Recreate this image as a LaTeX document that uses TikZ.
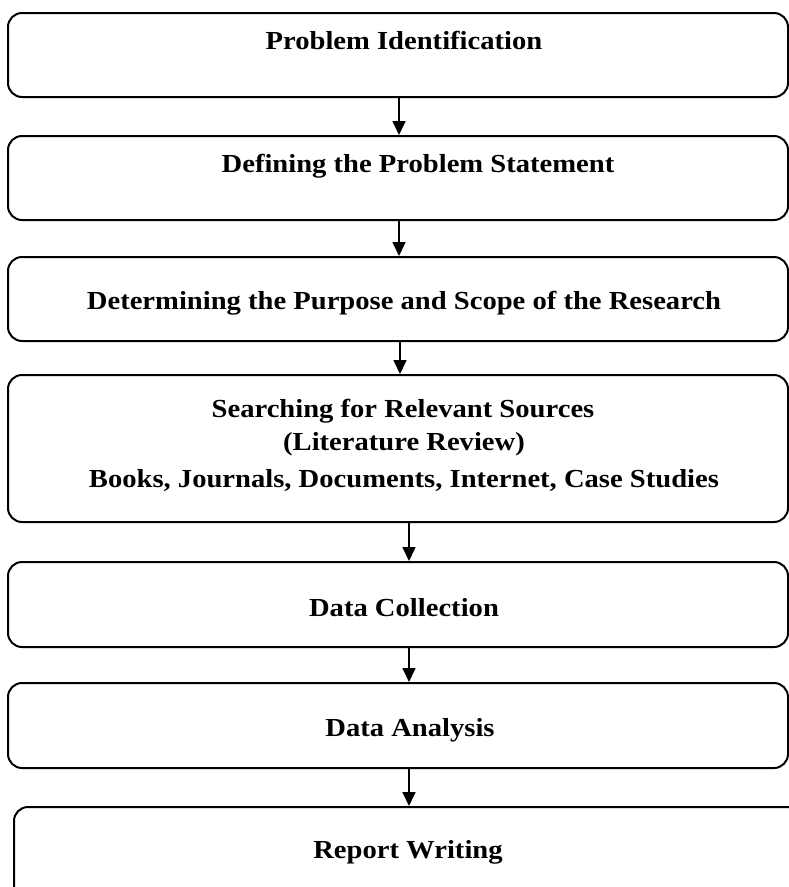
\documentclass[tikz,border=0pt]{standalone}
\usepackage{fontspec}
\setmainfont[FakeStretch=1.10]{Liberation Serif}
\usetikzlibrary{arrows.meta}
\begin{document}
\begin{tikzpicture}[x=1pt,y=-1pt,
  box/.style={draw=black, line width=2pt, rounded corners=14pt, inner sep=0pt},
  lbl/.style={font=\fontsize{26}{30}\selectfont\bfseries, anchor=base, inner sep=0pt},
  arr/.style={line width=1.7pt, -{Triangle[width=13pt,length=14pt]}}]
\useasboundingbox (0,0) rectangle (789,887);
\clip (0,0) rectangle (789,887);
\node[box, minimum width=780pt, minimum height=84pt] (b1) at (398,55) {};
\node[box, minimum width=780pt, minimum height=84pt] (b2) at (398,178) {};
\node[box, minimum width=780pt, minimum height=84pt] (b3) at (398,299) {};
\node[box, minimum width=780pt, minimum height=147pt] (b4) at (398,448.5) {};
\node[box, minimum width=780pt, minimum height=85pt] (b5) at (398,604.5) {};
\node[box, minimum width=780pt, minimum height=85pt] (b6) at (398,725.5) {};
\node[box, minimum width=796pt, minimum height=103pt] (b7) at (412,858.5) {};
\node[lbl] (t1) at (404,49) {Problem Identification};
\node[lbl] (t2) at (418,172) {Defining the Problem Statement};
\node[lbl] (t3) at (404,309) {Determining the Purpose and Scope of the Research};
\node[lbl] (t4a) at (403,417) {Searching for Relevant Sources};
\node[lbl] (t4b) at (404,450) {(Literature Review)};
\node[lbl] (t4c) at (404,487) {Books, Journals, Documents, Internet, Case Studies};
\node[lbl] (t5) at (404,616) {Data Collection};
\node[lbl] (t6) at (410,736) {Data Analysis};
\node[lbl] (t7) at (408,858) {Report Writing};
\draw[arr] ([xshift=1pt]b1.south) -- ([xshift=1pt]b2.north);
\draw[arr] ([xshift=1pt]b2.south) -- ([xshift=1pt]b3.north);
\draw[arr] ([xshift=2pt]b3.south) -- ([xshift=2pt]b4.north);
\draw[arr] ([xshift=11pt]b4.south) -- ([xshift=11pt]b5.north);
\draw[arr] ([xshift=11pt]b5.south) -- ([xshift=11pt]b6.north);
\draw[arr] ([xshift=11pt]b6.south) -- ([xshift=11pt]b6.south |- b7.north);
\end{tikzpicture}
\end{document}
